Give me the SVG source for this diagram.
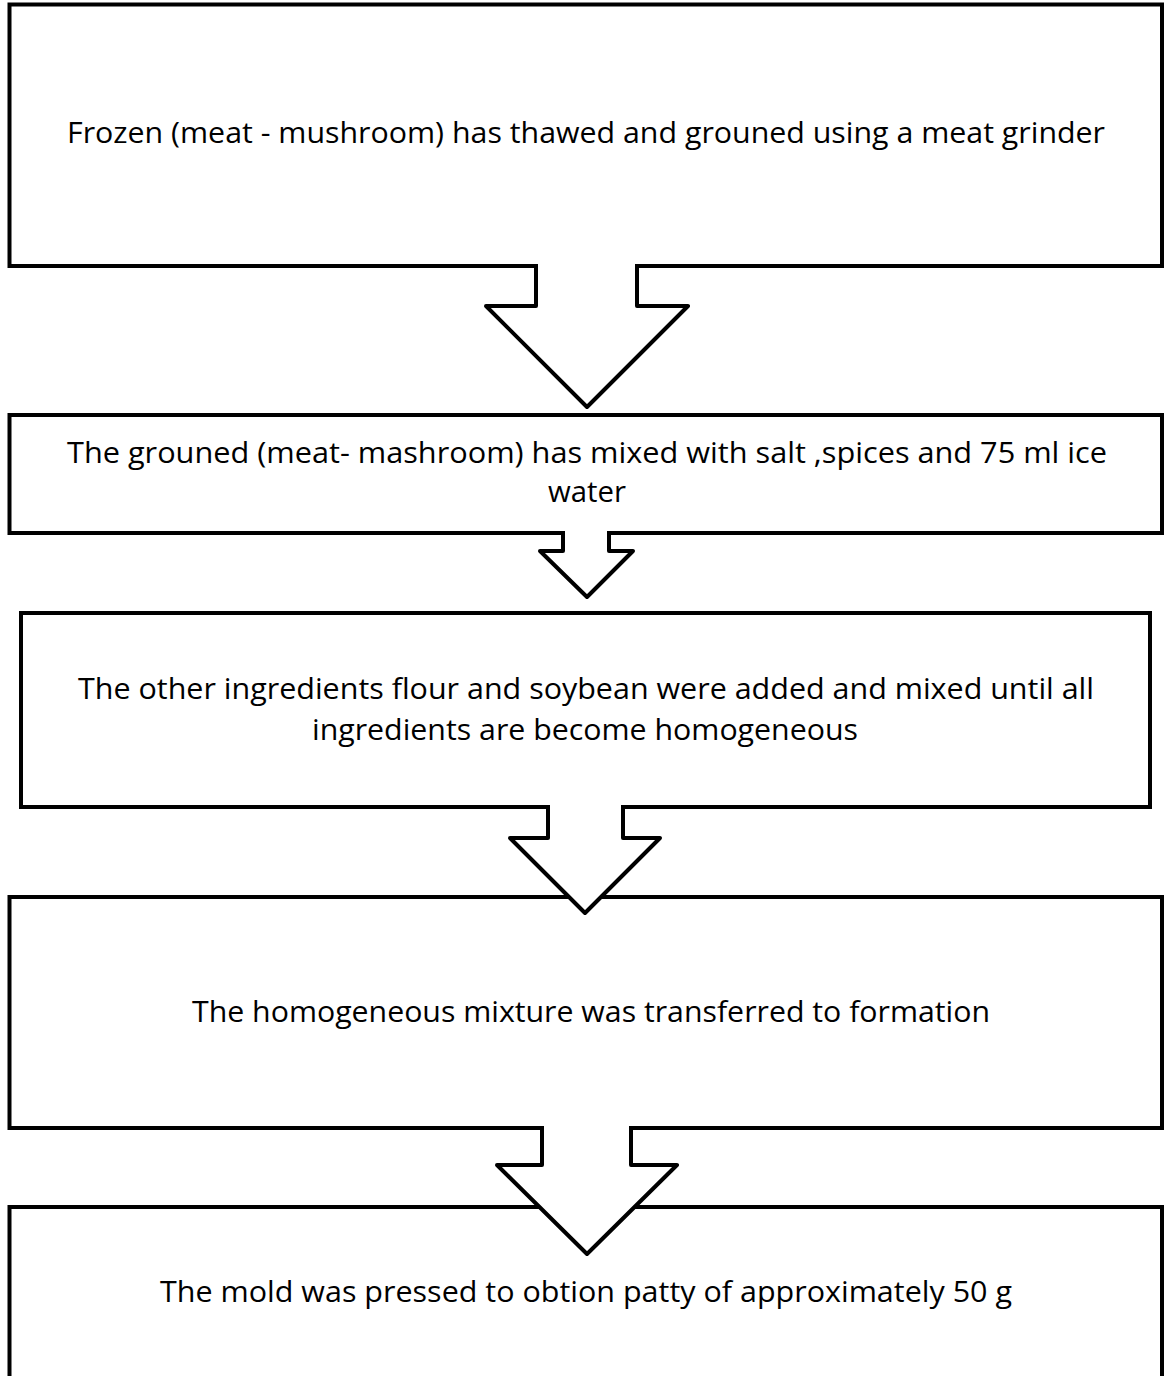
<svg xmlns="http://www.w3.org/2000/svg" width="1165" height="1376" viewBox="0 0 1165 1376">
<style>
.box{fill:#fff;stroke:#000;stroke-width:4}
.arr{fill:#fff;stroke:#000;stroke-width:4;stroke-linejoin:round}
.t{font-family:"Open Sans","Liberation Sans",sans-serif;font-size:30px;fill:#000;text-anchor:middle}
</style>
<rect width="1165" height="1376" fill="#fff"/>
<g id="node1"><rect class="box" x="9.5" y="4.5" width="1152.5" height="261.5"/>
<text class="t" x="586" y="143" textLength="1038" lengthAdjust="spacingAndGlyphs">Frozen (meat - mushroom) has thawed and grouned using a meat grinder</text></g>
<g id="node2"><rect class="box" x="9.5" y="415" width="1152.5" height="118"/>
<text class="t" x="587" y="463" textLength="1040" lengthAdjust="spacingAndGlyphs">The grouned (meat- mashroom) has mixed with salt ,spices and  75 ml ice</text>
<text class="t" x="587" y="502" textLength="78" lengthAdjust="spacingAndGlyphs">water</text></g>
<g id="node3"><rect class="box" x="21" y="613" width="1129" height="194"/>
<text class="t" x="586" y="699" textLength="1016" lengthAdjust="spacingAndGlyphs">The other ingredients flour and soybean were added and mixed until all</text>
<text class="t" x="585" y="740" textLength="546" lengthAdjust="spacingAndGlyphs">ingredients are become homogeneous</text></g>
<g id="node4"><rect class="box" x="9.5" y="897" width="1152.5" height="231"/>
<text class="t" x="591" y="1022" textLength="798" lengthAdjust="spacingAndGlyphs">The homogeneous mixture was transferred to formation</text></g>
<g id="node5"><rect class="box" x="9.5" y="1207" width="1152.5" height="200"/>
<text class="t" x="586" y="1302" textLength="852" lengthAdjust="spacingAndGlyphs">The mold was pressed to obtion patty of approximately 50 g</text></g>
<g id="connectors">
<path class="arr" d="M536 264 V306 H486 L587 407 L688 306 H637 V264"/>
<path class="arr" d="M563 531 V551 H540 L587 597 L633 551 H609 V531"/>
<path class="arr" d="M548 805 V838 H510 L585 913 L660 838 H623 V805"/>
<path class="arr" d="M542 1126 V1165 H497 L587 1254 L677 1165 H631 V1126"/>
</g>
</svg>
